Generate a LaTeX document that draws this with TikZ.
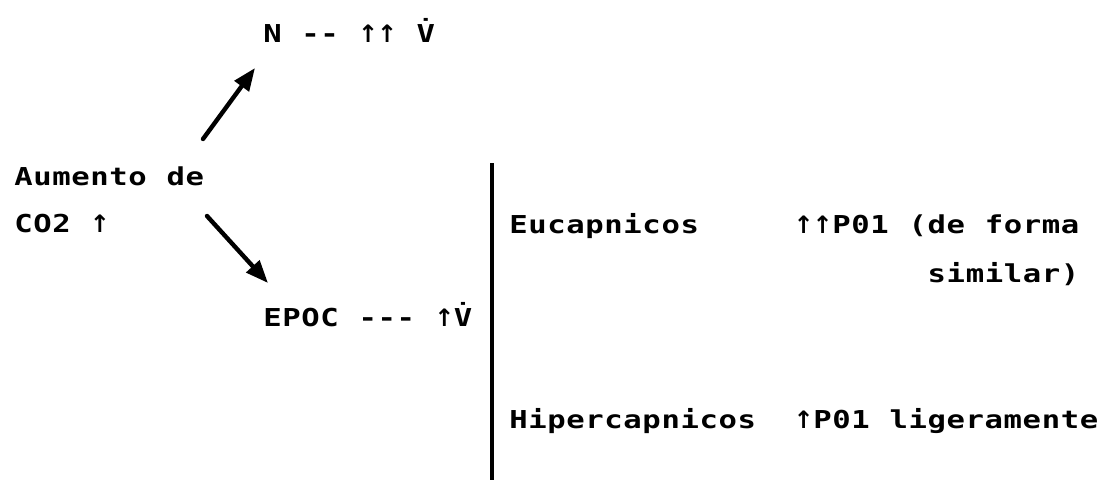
\documentclass[tikz,border=0pt]{standalone}
\usepackage{fontspec}
\usepackage{tikz}
\usetikzlibrary{positioning, arrows.meta, calc}
\newfontfamily\dotfont{DejaVu Sans Mono}[FakeStretch=1.24, LetterSpace=2.5, WordSpace=1.04]
\newfontfamily\upfont{DejaVu Sans}
\newcommand{\up}{\makebox[14.25pt][c]{\upfont\fontsize{18}{20}\selectfont ↑}}
\begin{document}
\begin{tikzpicture}[
  x=0.75pt, y=-0.75pt,
  txt/.style={inner sep=0pt, anchor=base west, font=\dotfont\bfseries\fontsize{18.5}{20}\selectfont},
  arr/.style={-{Triangle[length=17pt, width=13pt]}, line width=3.3pt, line cap=round},
  bar/.style={line width=2.4pt}]
\useasboundingbox (0,0) rectangle (1104,480);
\def\ca{14}\def\cb{263}\def\cc{509}\def\cd{794}
% --- left: cause ---
\node[txt] (aum) at (\ca,185) {Aumento de};
\node[txt] (co2) at (\ca,232) {CO2 \up};
% --- middle: the two responses ---
\node[txt] (nv) at (\cb,42) {N -- \up\up\ V̇};
\node[txt] (epoc) at (\cb,326) {EPOC --- \up V̇};
% --- right: EPOC split ---
\node[txt] (euc) at (\cc,233) {Eucapnicos};
\node[txt] (eueff) at (\cd,233) {\up\up P01 (de forma};
\node[txt, anchor=base east] (eusim) at ($(eueff.base east)+(0,49)$) {similar)};
\node[txt] (hip) at (\cc,428) {Hipercapnicos};
\node[txt] (hipeff) at (\cd,428) {\up P01 ligeramente};
% arrows
\draw[arr] ($(aum.base west)+(189,-46)$) -- ($(nv.base west)+(-8,26)$);
\draw[arr] ($(co2.base west)+(193,-16)$) -- ($(epoc.base west)+(5,-43)$);
\draw[bar] (492,163) -- (492,480);
\end{tikzpicture}
\end{document}
